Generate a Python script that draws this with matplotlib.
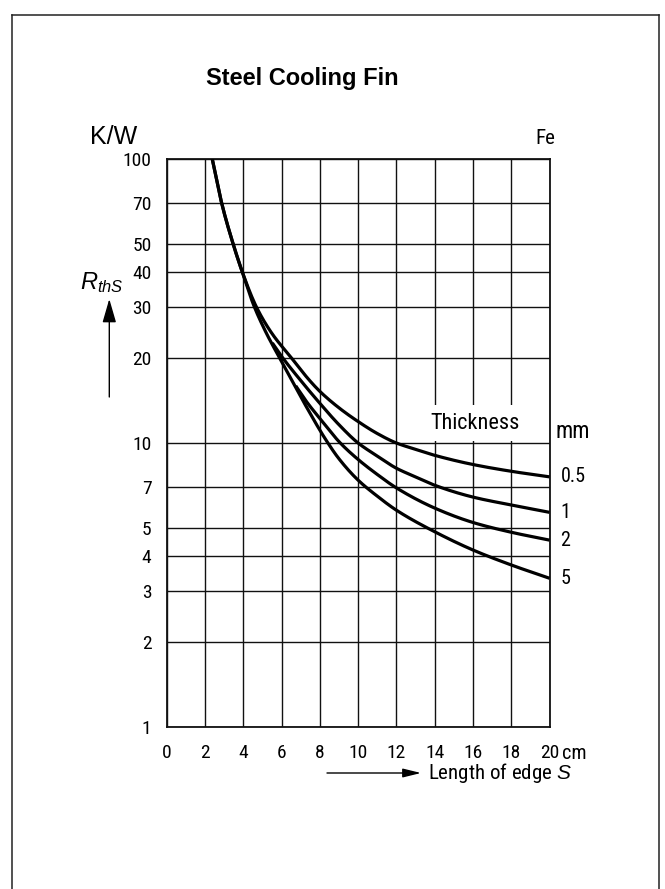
import numpy as np
import matplotlib
matplotlib.use('Agg')
import matplotlib.pyplot as plt
from matplotlib import font_manager as fm
from matplotlib.patches import FancyArrowPatch, Rectangle
from matplotlib.lines import Line2D

# ---------------- data ----------------
shared_s = [2.38, 2.87, 3.48, 3.95]          # common upper part of the curves
shared_R = [100, 70, 50, 40]
t05_s = [4.7, 5.5, 6.5, 7.4, 8.0, 9.0, 10, 11, 12, 13, 14, 16, 18, 20]
t05_R = [30, 24.3, 20, 16.8, 15.2, 13.3, 11.9, 10.8, 10.0, 9.5, 9.05, 8.4, 7.95, 7.6]
t1_s = [5.52, 6.0, 7.0, 8.0, 9.0, 10, 11, 12, 13, 14, 16, 18, 20]
t1_R = [22.5, 20.2, 16.6, 13.8, 11.6, 10.0, 9.0, 8.15, 7.6, 7.1, 6.45, 6.05, 5.7]
t2_s = [6.74, 7.3, 8.0, 9.07, 10, 11, 12, 14, 16, 18, 20]
t2_R = [15.9, 14.0, 12.2, 10.0, 8.75, 7.75, 6.95, 5.9, 5.25, 4.85, 4.55]
t5_s = [4.55, 5.15, 5.85, 6.5, 7.3, 8.3, 9.0, 10, 11, 12, 14, 16, 18, 20]
t5_R = [30.5, 24.8, 20.2, 16.8, 13.4, 10.3, 8.8, 7.4, 6.5, 5.8, 4.87, 4.2, 3.72, 3.34]
thickness_labels = ['0.5', '1', '2', '5']
x_ticks = [0, 2, 4, 6, 8, 10, 12, 14, 16, 18, 20]
y_ticks = [1, 2, 3, 4, 5, 7, 10, 20, 30, 40, 50, 70, 100]

# ---------------- fonts ----------------
HELV = ['Liberation Sans', 'DejaVu Sans']
entries = fm.fontManager.ttflist
names = {f.name for f in entries}
NF = None
for cand in ['Liberation Sans Narrow', 'Arial Narrow', 'Roboto Condensed',
             'Open Sans Condensed', 'DejaVu Sans Condensed', 'Noto Sans Condensed']:
    if cand in names:
        NF = dict(fontfamily=cand)
        break
if NF is None:
    for f in entries:
        st = f.stretch
        cond = (isinstance(st, str) and 'condensed' in st) or (isinstance(st, (int, float)) and st < 500)
        if cond and f.name in ('Liberation Sans', 'Roboto', 'Open Sans', 'Noto Sans', 'DejaVu Sans', 'Lato', 'Inter'):
            NF = dict(fontfamily=f.name, fontstretch='condensed')
            break
if NF is None:
    for n in sorted(names):
        if 'Narrow' in n or 'Condensed' in n:
            NF = dict(fontfamily=n)
            break
NARROW_FOUND = NF is not None
if NF is None:
    NF = dict(fontfamily='Liberation Sans')
FS = 14 if NARROW_FOUND else 12.5

plt.rcParams['font.family'] = HELV
plt.rcParams['mathtext.fontset'] = 'custom'
plt.rcParams['mathtext.it'] = 'Liberation Sans:italic'
plt.rcParams['mathtext.rm'] = 'Liberation Sans'

W, H = 665, 889
fig = plt.figure(figsize=(W / 100, H / 100), dpi=100)
fig.patch.set_facecolor('white')


def px(x, y):
    return (x / W, 1 - y / H)


# axes placement (pixels: x 166.7..549.5, y 159..727)
ax = fig.add_axes([166.7 / W, 1 - 727 / H, (549.5 - 166.7) / W, (727 - 159) / H])
ax.set_yscale('log')
ax.set_xlim(0, 20)
ax.set_ylim(1, 100)
ax.set_xticks(x_ticks)
ax.set_xticklabels([str(v) for v in x_ticks], fontsize=FS, **NF)
ax.set_yticks(y_ticks)
ax.set_yticklabels([str(v) for v in y_ticks], fontsize=FS, **NF)
ax.yaxis.set_minor_locator(matplotlib.ticker.NullLocator())
ax.tick_params(axis='both', length=0)
ax.tick_params(axis='y', pad=11)
ax.tick_params(axis='x', pad=12)
ax.grid(True, which='major', color='#111111', linewidth=1.0, zorder=1)
ax.set_axisbelow(True)
for sp in ax.spines.values():
    sp.set_linewidth(1.3)
    sp.set_color('#111111')

# white area behind "Thickness"
ax.add_patch(Rectangle((12.08, 10.15), 20 - 12.08 - 0.04, 13.6 - 10.15,
                       facecolor='white', edgecolor='none', zorder=1.5))


def pchip(xs, ys, n=300):
    xs = np.asarray(xs, float)
    ys = np.asarray(ys, float)
    h = np.diff(xs)
    d = np.diff(ys) / h
    m = np.zeros_like(ys)
    for k in range(1, len(xs) - 1):
        if d[k - 1] * d[k] > 0:
            w1 = 2 * h[k] + h[k - 1]
            w2 = h[k] + 2 * h[k - 1]
            m[k] = (w1 + w2) / (w1 / d[k - 1] + w2 / d[k])
    m[0] = d[0]
    m[-1] = d[-1]
    xx = np.linspace(xs[0], xs[-1], n)
    idx = np.clip(np.searchsorted(xs, xx) - 1, 0, len(xs) - 2)
    t = (xx - xs[idx]) / h[idx]
    h00 = 2 * t**3 - 3 * t**2 + 1
    h10 = t**3 - 2 * t**2 + t
    h01 = -2 * t**3 + 3 * t**2
    h11 = t**3 - t**2
    yy = h00 * ys[idx] + h10 * h[idx] * m[idx] + h01 * ys[idx + 1] + h11 * h[idx] * m[idx + 1]
    return xx, yy


def draw(s, R):
    xx, yy = pchip(s, np.log10(R))
    ax.plot(xx, 10 ** yy, color='black', linewidth=2.3, solid_capstyle='butt', zorder=3)


draw(shared_s + t05_s, shared_R + t05_R)
draw(shared_s + t5_s, shared_R + t5_R)
draw(t1_s, t1_R)
draw(t2_s, t2_R)

ends = [t05_R[-1], t1_R[-1], t2_R[-1], t5_R[-1]]
for lab, r in zip(thickness_labels, ends):
    ax.annotate(lab, xy=(20, r), xytext=(8, 0), textcoords='offset points',
                ha='left', va='center', fontsize=FS + 0.5, annotation_clip=False, **NF)

ax.text(13.78, 11.75, 'Thickness', ha='left', va='center', fontsize=FS + 2,
        zorder=4, **NF)
ax.annotate('mm', xy=(20, 11.0), xytext=(4, 0), textcoords='offset points',
            ha='left', va='center', fontsize=FS + 2.5, annotation_clip=False, **NF)
ax.annotate('cm', xy=(20, 1), xytext=(9, -19), textcoords='offset points',
            ha='left', va='center', fontsize=FS + 0.5, annotation_clip=False, **NF)

# ---------------- figure texts ----------------
fig.text(*px(302, 78), 'Steel Cooling Fin', ha='center', va='center',
         fontsize=17, fontweight='bold', fontfamily=HELV)
fig.text(*px(90, 137), 'K/W', ha='left', va='center', fontsize=18, fontfamily=HELV)
fig.text(*px(535, 138), 'Fe', ha='left', va='center', fontsize=FS + 1, **NF)
fig.text(*px(80, 289), r'$R_{thS}$', ha='left', va='baseline', fontsize=17)
fig.text(*px(428, 773), r'Length of edge $S$', ha='left', va='center',
         fontsize=FS + 1, **NF)

# arrows
fig.add_artist(FancyArrowPatch(px(109.3, 397), px(109.3, 299),
                               arrowstyle='-|>,head_length=1.45,head_width=0.42',
                               mutation_scale=10, linewidth=1.0, color='black',
                               shrinkA=0, shrinkB=0, transform=fig.transFigure))
fig.add_artist(FancyArrowPatch(px(327, 773), px(421, 773),
                               arrowstyle='-|>,head_length=1.1,head_width=0.27',
                               mutation_scale=10, linewidth=1.0, color='black',
                               shrinkA=0, shrinkB=0, transform=fig.transFigure))

# outer frame (left, top, right)
for (x0, y0, x1, y1) in [(12, 15, 12, H + 5), (12, 15, 658.5, 15), (658.5, 15, 658.5, H + 5)]:
    a, b = px(x0, y0)
    c, d = px(x1, y1)
    fig.add_artist(Line2D([a, c], [b, d], color='#222222', linewidth=1.1,
                          transform=fig.transFigure))

fig.savefig('out.png', dpi=100, facecolor='white')
